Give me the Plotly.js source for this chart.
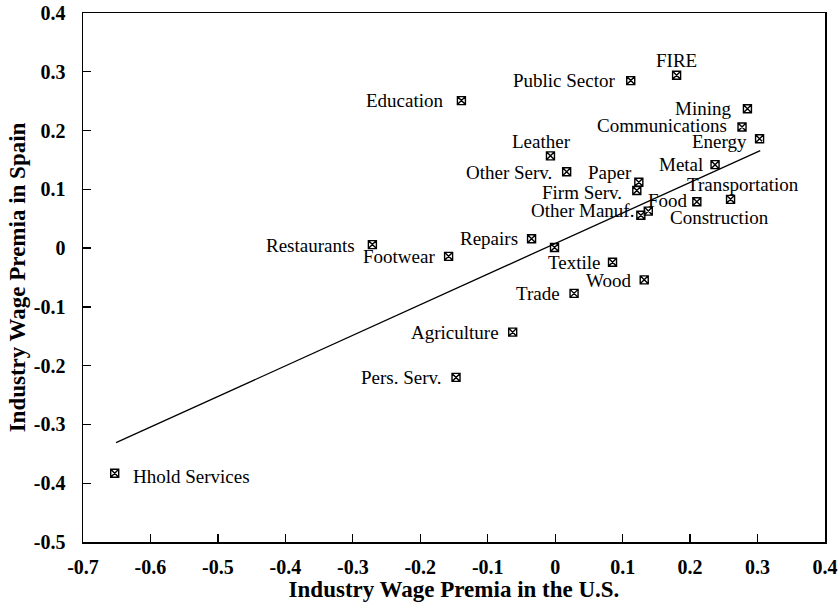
<!DOCTYPE html>
<html>
<head>
<meta charset="utf-8">
<script src="https://cdn.plot.ly/plotly-3.0.1.min.js"></script>
<style>html,body{margin:0;padding:0;background:#fff;}#chart{width:838px;height:604px;}</style>
</head>
<body>
<div id="chart"></div>
<script>
// Industry wage premia: U.S. (x) vs Spain (y)
const industries = ["FIRE","Public Sector","Education","Mining","Communications","Energy","Leather","Other Serv.","Paper","Firm Serv.","Metal","Transportation","Food","Other Manuf.","Construction","Repairs","","Footwear","Restaurants","Textile","Wood","Trade","Agriculture","Pers. Serv.","Hhold Services"];
const premiaUS    = [0.180, 0.112, -0.139, 0.285, 0.277, 0.303, -0.007, 0.017, 0.124, 0.121, 0.237, 0.260, 0.210, 0.127, 0.138, -0.035, -0.001, -0.158, -0.271, 0.085, 0.132, 0.028, -0.063, -0.147, -0.653];
const premiaSpain = [0.294, 0.285, 0.251, 0.237, 0.206, 0.186, 0.157, 0.130, 0.112, 0.098, 0.142, 0.083, 0.079, 0.056, 0.063, 0.016, 0.001, -0.014, 0.006, -0.024, -0.054, -0.077, -0.143, -0.220, -0.383];
// fitted regression line end points
const fitX = [-0.651, 0.304];
const fitY = [-0.331, 0.166];
const xTicks = [-0.7,-0.6,-0.5,-0.4,-0.3,-0.2,-0.1,0,0.1,0.2,0.3,0.4];
const yTicks = [-0.5,-0.4,-0.3,-0.2,-0.1,0,0.1,0.2,0.3,0.4];

// label placement: [xanchor, xshift, yshift]
const labelPos = [
  ["center",0,15],["right",-14,0],["right",-16,0],["right",-15,0],["right",-14,2],["right",-12,-3],
  ["center",-9,14],["right",-14,-1],["right",-6,10],["right",-14,-2],["right",-11,0],["center",12,15],
  ["right",-8,1],["right",-6,5],["left",21,-6],["right",-13,0],["right",-13,0],["right",-13,0],
  ["right",-16,-1],["right",-12,0],["right",-12,-1],["right",-13,0],["right",-13,0],["right",-13,0],["left",17,-3]
];

const serif = "'Liberation Serif','Times New Roman',serif";
const annotations = industries.map((t,i)=>({
  x: premiaUS[i], y: premiaSpain[i], xref:'x', yref:'y', text: t, showarrow:false,
  xanchor: labelPos[i][0], yanchor:'middle', xshift: labelPos[i][1], yshift: labelPos[i][2],
  font:{family:serif, size:19, color:'#000'}, borderpad:0
})).filter(a=>a.text!=="");

const traces = [
  {x: fitX, y: fitY, mode:'lines', line:{color:'#000', width:1.3}, hoverinfo:'skip', showlegend:false},
  {x: premiaUS, y: premiaSpain, text: industries, mode:'markers', type:'scatter',
   marker:{symbol:'square-x-open', size:8, color:'#000', line:{width:1.4, color:'#000'}}, showlegend:false}
];

const axisCommon = {
  showgrid:false, zeroline:false, showline:true, linecolor:'#000', linewidth:1.5,
  mirror:true, ticks:'inside', ticklen:8, tickcolor:'#000', tickwidth:1.3,
  tickfont:{family:serif, size:20, color:'#000', weight:'bold'}
};

const layout = {
  width:838, height:604,
  margin:{l:83, r:13, t:13, b:62},
  paper_bgcolor:'#fff', plot_bgcolor:'#fff',
  xaxis: Object.assign({}, axisCommon, {
    range:[-0.7,0.4], tickvals:xTicks, ticktext:xTicks.map(v=>String(v)), ticklabelstandoff:6,
    title:{text:'Industry Wage Premia in the U.S.', font:{family:serif, size:23, color:'#000', weight:'bold'}, standoff:0}
  }),
  yaxis: Object.assign({}, axisCommon, {
    range:[-0.5,0.4], tickvals:yTicks, ticktext:yTicks.map(v=>String(v)), ticklabelstandoff:12,
    title:{text:'Industry Wage Premia in Spain', font:{family:serif, size:23, color:'#000', weight:'bold'}, standoff:2}
  }),
  annotations: annotations
};

Plotly.newPlot('chart', traces, layout, {displayModeBar:false, staticPlot:true});
</script>
</body>
</html>
